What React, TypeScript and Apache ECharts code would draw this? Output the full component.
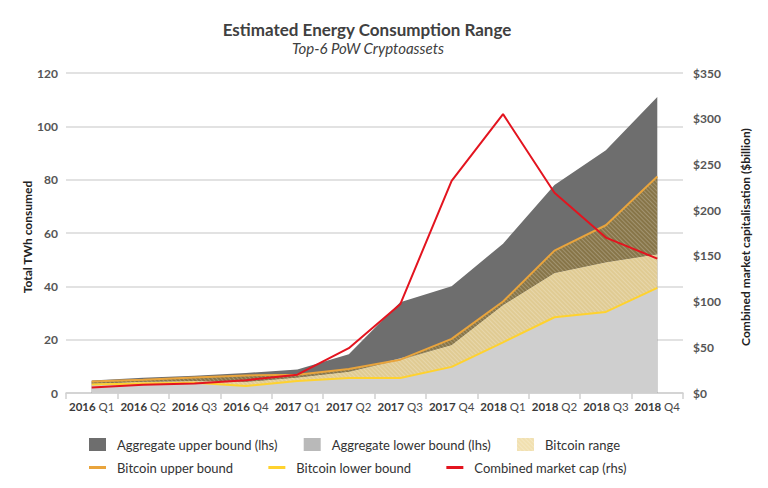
import React, { useEffect, useRef } from "react";
import * as echarts from "echarts";

const categories = [
  "2016 Q1", "2016 Q2", "2016 Q3", "2016 Q4",
  "2017 Q1", "2017 Q2", "2017 Q3", "2017 Q4",
  "2018 Q1", "2018 Q2", "2018 Q3", "2018 Q4",
];
// TWh (lhs)
const aggUpper = [4.7, 5.7, 6.5, 7.5, 8.8, 14.5, 34, 40, 56, 78, 91, 111];
const aggLower = [3.5, 4.2, 4.5, 4.2, 5.8, 8, 13, 18, 33, 45, 49, 52];
const btcUpper = [4.3, 5.0, 5.8, 6.6, 6.8, 9.0, 12.5, 20.3, 34.3, 53.4, 62.9, 81.2];
const btcLower = [3.2, 3.6, 3.8, 2.6, 4.5, 5.6, 5.6, 9.8, 19, 28.4, 30.4, 39.4];
// $billion (rhs)
const marketCap = [6, 9, 10.5, 14, 20, 49, 97, 232, 305, 219, 170, 147];

const leftMax = 120;
const leftInterval = 20;
const rightMax = 350;
const rightInterval = 50;

const FONT = "Lato, 'Noto Sans', sans-serif";

export default function App() {
  const ref = useRef<HTMLDivElement>(null);
  useEffect(() => {
    if (!ref.current) return;
    const chart = echarts.init(ref.current, null, { renderer: "svg" });
    const mid = btcUpper.map((u, i) => Math.min(u, aggLower[i]));
    const band1 = mid.map((m, i) => +(m - btcLower[i]).toFixed(3));
    const band2 = btcUpper.map((u, i) => +(u - mid[i]).toFixed(3));
    const decal = {
      symbol: "rect",
      symbolSize: 1,
      dashArrayX: [1, 0],
      dashArrayY: [1, 2],
      rotation: Math.PI / 4,
      color: "rgba(255,255,255,0.22)",
    };
    const legendText = {
      fontFamily: FONT,
      fontSize: 13,
      color: "#333333",
      padding: [0, 0, 0, 6],
    };
    chart.setOption({
      animation: false,
      backgroundColor: "#ffffff",
      grid: { left: 66, right: 85, top: 73, bottom: 95, containLabel: false },
      xAxis: {
        type: "category",
        data: categories,
        boundaryGap: true,
        axisLine: { lineStyle: { color: "#d0d0d0", width: 1.5 } },
        axisTick: { show: true, length: 6, lineStyle: { color: "#d0d0d0", width: 1.5 } },
        axisLabel: {
          interval: 0,
          margin: 7,
          fontFamily: FONT,
          fontSize: 11,
          formatter: (v: string) => {
            const [y, q] = v.split(" ");
            return `{y|${y}} {q|${q}}`;
          },
          rich: {
            y: { fontFamily: FONT, fontSize: 11.5, fontWeight: "bold", color: "#3a3a3a" },
            q: { fontFamily: FONT, fontSize: 11.5, color: "#4a4a4a" },
          },
        },
      },
      yAxis: [
        {
          type: "value",
          min: 0,
          max: leftMax,
          interval: leftInterval,
          axisLine: { show: false },
          axisTick: { show: false },
          splitLine: { lineStyle: { color: "#d9d9d9", width: 1.5 } },
          axisLabel: { fontFamily: FONT, fontSize: 12, fontWeight: "bold", color: "#555555", margin: 8 },
        },
        {
          type: "value",
          position: "right",
          min: 0,
          max: rightMax,
          interval: rightInterval,
          axisLine: { show: false },
          axisTick: { show: false },
          splitLine: { show: false },
          axisLabel: {
            fontFamily: FONT,
            fontSize: 12,
            fontWeight: "bold",
            color: "#555555",
            margin: 10,
            formatter: (v: number) => "$" + v,
          },
        },
      ],
      legend: [
        {
          data: [
            { name: "Aggregate upper bound (lhs)", icon: "rect" },
            { name: "Aggregate lower bound (lhs)", icon: "rect", itemStyle: { color: "#b9b9b9" } },
            { name: "Bitcoin range", icon: "rect", itemStyle: { color: "#f1e0b0" } },
          ],
          left: 89,
          top: 438,
          padding: 0,
          itemWidth: 17,
          itemHeight: 13,
          itemGap: 26,
          selectedMode: false,
          itemStyle: { borderWidth: 0 },
          textStyle: legendText,
        },
        {
          data: [
            { name: "Bitcoin upper bound", icon: "rect", itemStyle: { color: "#e9a43c" } },
            { name: "Bitcoin lower bound", icon: "rect", itemStyle: { color: "#ffd22e" } },
            { name: "Combined market cap (rhs)", icon: "rect", itemStyle: { color: "#e3141f" } },
          ],
          left: 89,
          top: 461,
          padding: 0,
          itemWidth: 17,
          itemHeight: 3,
          itemGap: 35,
          selectedMode: false,
          itemStyle: { borderWidth: 0 },
          textStyle: legendText,
        },
      ],
      graphic: [
        {
          type: "text",
          x: 367,
          y: 29,
          style: {
            text: "Estimated Energy Consumption Range",
            fontFamily: FONT,
            fontSize: 17,
            fontWeight: "bold",
            fill: "#404040",
            align: "center",
            verticalAlign: "middle",
          },
        },
        {
          type: "text",
          x: 368,
          y: 48,
          style: {
            text: "Top-6 PoW Cryptoassets",
            fontFamily: FONT,
            fontSize: 15,
            fontStyle: "italic",
            fill: "#404040",
            align: "center",
            verticalAlign: "middle",
          },
        },
        {
          type: "text",
          x: 27,
          y: 237,
          rotation: Math.PI / 2,
          style: {
            text: "Total TWh consumed",
            fontFamily: FONT,
            fontSize: 12,
            fontWeight: "bold",
            fill: "#222222",
            align: "center",
            verticalAlign: "middle",
          },
        },
        {
          type: "text",
          x: 745,
          y: 237,
          rotation: Math.PI / 2,
          style: {
            text: "Combined market capitalisation ($billion)",
            fontFamily: FONT,
            fontSize: 12,
            fontWeight: "bold",
            fill: "#222222",
            align: "center",
            verticalAlign: "middle",
          },
        },
      ],
      series: [
        {
          name: "Aggregate upper bound (lhs)",
          type: "line",
          data: aggUpper,
          symbol: "none",
          lineStyle: { width: 0 },
          itemStyle: { color: "#6e6e6e" },
          areaStyle: { color: "#6e6e6e", opacity: 1 },
        },
        {
          name: "Aggregate lower bound (lhs)",
          type: "line",
          data: aggLower,
          symbol: "none",
          lineStyle: { width: 0 },
          itemStyle: { color: "#cfcfcf" },
          areaStyle: { color: "#cfcfcf", opacity: 1 },
        },
        {
          name: "_btcBase",
          type: "line",
          stack: "btc",
          data: btcLower,
          symbol: "none",
          lineStyle: { width: 0, opacity: 0 },
          itemStyle: { color: "transparent" },
        },
        {
          name: "Bitcoin range",
          type: "line",
          stack: "btc",
          data: band1,
          symbol: "none",
          lineStyle: { width: 0, opacity: 0 },
          itemStyle: { color: "#e0cb93", decal },
          areaStyle: { color: "#e0cb93", opacity: 1 },
        },
        {
          name: "_btcRangeDark",
          type: "line",
          stack: "btc",
          data: band2,
          symbol: "none",
          lineStyle: { width: 0, opacity: 0 },
          itemStyle: { color: "#877548", decal },
          areaStyle: { color: "#877548", opacity: 1 },
        },
        {
          name: "Bitcoin lower bound",
          type: "line",
          data: btcLower,
          symbol: "none",
          itemStyle: { color: "#ffd22e" },
          lineStyle: { color: "#ffd22e", width: 2 },
        },
        {
          name: "Bitcoin upper bound",
          type: "line",
          data: btcUpper,
          symbol: "none",
          itemStyle: { color: "#e9a43c" },
          lineStyle: { color: "#e9a43c", width: 2 },
        },
        {
          name: "Combined market cap (rhs)",
          type: "line",
          yAxisIndex: 1,
          data: marketCap,
          symbol: "none",
          itemStyle: { color: "#e3141f" },
          lineStyle: { color: "#e3141f", width: 2 },
        },
      ],
    });
    return () => chart.dispose();
  }, []);
  return (
    <div
      ref={ref}
      style={{ position: "fixed", left: 0, top: 0, width: 768, height: 488, background: "#fff" }}
    />
  );
}
